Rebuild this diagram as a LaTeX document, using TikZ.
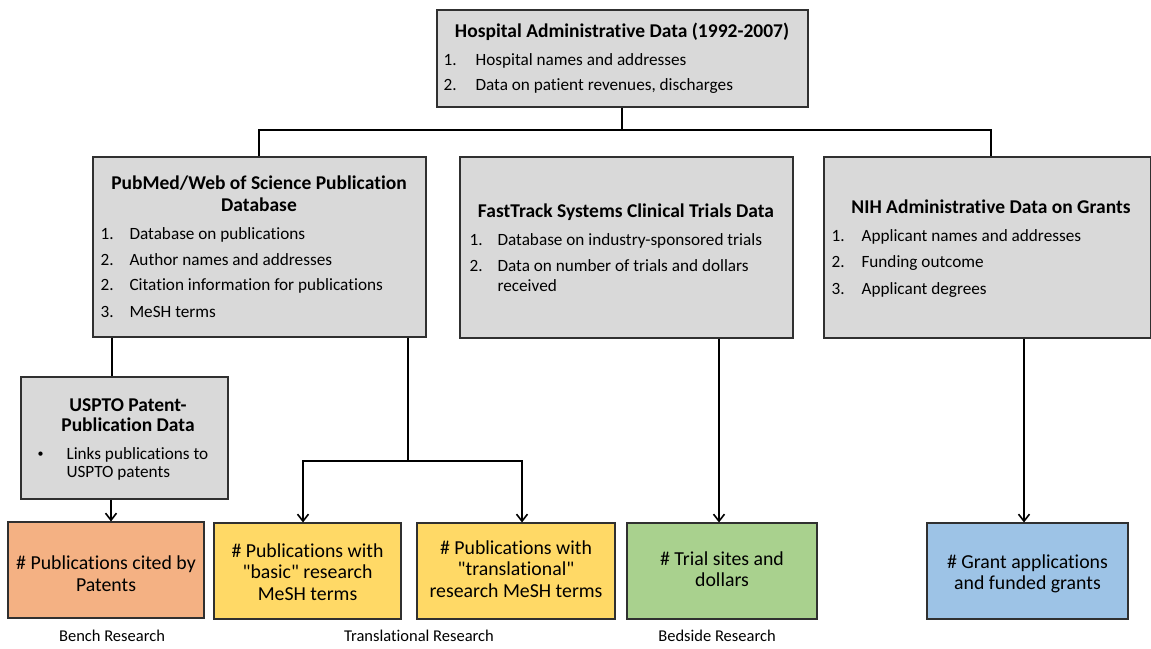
\documentclass[tikz,border=0pt]{standalone}
\usepackage{fontspec}
\setmainfont{Carlito}[Ligatures={TeXOff,CommonOff}]
\usetikzlibrary{arrows.meta}
\definecolor{boxgray}{HTML}{D9D9D9}
\definecolor{boxorange}{HTML}{F4B183}
\definecolor{boxyellow}{HTML}{FFD966}
\definecolor{boxgreen}{HTML}{A9D18E}
\definecolor{boxblue}{HTML}{9DC3E6}
\definecolor{edge}{HTML}{303030}
\begin{document}
\begin{tikzpicture}[x=1pt,y=-1pt,
  box/.style={draw=edge, line width=1.1pt, inner sep=0pt},
  conn/.style={line width=1.8pt, black, line join=miter},
  tip/.tip={Straight Barb[length=7pt,width=11pt,line width=1.6pt]},
  arr/.style={conn, -tip},
  ttl/.style={anchor=base, font=\fontsize{19.5}{22}\selectfont\bfseries},
  itm/.style={anchor=base west, font=\fontsize{17.2}{20}\selectfont},
  res/.style={anchor=base, font=\fontsize{19.8}{23}\selectfont},
  lab/.style={anchor=base, font=\fontsize{16.5}{19}\selectfont}
]
\useasboundingbox (0,0) rectangle (1151,648);
\fill[white] (0,0) rectangle (1151,648);

% boxes
\node[box, fill=boxgray, minimum width=371pt, minimum height=97pt] (hosp) at (622.5,58.5) {};
\node[box, fill=boxgray, minimum width=333pt, minimum height=180pt] (pub) at (259.5,247) {};
\node[box, fill=boxgray, minimum width=333pt, minimum height=181pt] (fast) at (626.5,247.5) {};
\node[box, fill=boxgray, minimum width=327pt, minimum height=181pt] (nih) at (987.5,247.5) {};
\node[box, fill=boxgray, minimum width=207pt, minimum height=122pt] (uspto) at (124.5,438) {};
\node[box, fill=boxorange, minimum width=196pt, minimum height=96pt] (orange) at (106,570) {};
\node[box, fill=boxyellow, minimum width=187pt, minimum height=96pt] (yel1) at (307.5,571) {};
\node[box, fill=boxyellow, minimum width=198pt, minimum height=96pt] (yel2) at (516,571) {};
\node[box, fill=boxgreen, minimum width=190pt, minimum height=96pt] (green) at (722,571) {};
\node[box, fill=boxblue, minimum width=201pt, minimum height=96pt] (blue) at (1027.5,571) {};

% hospital text
\node[ttl] (hospT) at (622,37) {Hospital Administrative Data (1992-2007)};
\node[itm] (hospN1) at (440,65) {1.};
\node[itm] (hospI1) at (472,65) {Hospital names and addresses};
\node[itm] (hospN2) at (440,90) {2.};
\node[itm] (hospI2) at (472,90) {Data on patient revenues, discharges};

% pubmed text
\node[ttl] (pubT1) at (259,189) {PubMed/Web of Science Publication};
\node[ttl] (pubT2) at (259,211) {Database};
\node[itm] (pubN1) at (97,239) {1.};
\node[itm] (pubI1) at (126,239) {Database on publications};
\node[itm] (pubN2) at (97,265) {2.};
\node[itm] (pubI2) at (126,265) {Author names and addresses};
\node[itm] (pubN3) at (97,290) {2.};
\node[itm] (pubI3) at (126,290) {Citation information for publications};
\node[itm] (pubN4) at (97,317) {3.};
\node[itm] (pubI4) at (126,317) {MeSH terms};

% fasttrack text
\node[ttl] (fastT) at (626,217) {FastTrack Systems Clinical Trials Data};
\node[itm] (fastN1) at (466,245) {1.};
\node[itm] (fastI1) at (494,245) {Database on industry-sponsored trials};
\node[itm] (fastN2) at (466,271) {2.};
\node[itm] (fastI2) at (494,271) {Data on number of trials and dollars};
\node[itm] (fastI3) at (494,291) {received};

% nih text
\node[ttl] (nihT) at (991,213) {NIH Administrative Data on Grants};
\node[itm] (nihN1) at (828,241) {1.};
\node[itm] (nihI1) at (858,241) {Applicant names and addresses};
\node[itm] (nihN2) at (828,267) {2.};
\node[itm] (nihI2) at (858,267) {Funding outcome};
\node[itm] (nihN3) at (828,294) {3.};
\node[itm] (nihI3) at (858,294) {Applicant degrees};

% uspto text
\node[ttl] (usT1) at (128,411) {USPTO Patent-};
\node[ttl] (usT2) at (128,431) {Publication Data};
\node[itm, font=\fontsize{12}{14}\selectfont] (usB) at (34,457) {•};
\node[itm] (usI1) at (63,459) {Links publications to};
\node[itm] (usI2) at (63,477) {USPTO patents};

% result boxes text
\node[res] (oT1) at (106,569) {\# Publications cited by};
\node[res] (oT2) at (106,591) {Patents};
\node[res] (y1T1) at (307.5,557) {\# Publications with};
\node[res] (y1T2) at (307.5,578) {"basic" research};
\node[res] (y1T3) at (307.5,600) {MeSH terms};
\node[res] (y2T1) at (516,554) {\# Publications with};
\node[res] (y2T2) at (516,575) {"translational"};
\node[res] (y2T3) at (516,597) {research MeSH terms};
\node[res] (gT1) at (722,565) {\# Trial sites and};
\node[res] (gT2) at (722,586) {dollars};
\node[res] (bT1) at (1027.5,568) {\# Grant applications};
\node[res] (bT2) at (1027.5,589) {and funded grants};

% labels
\node[lab] (lbBench) at (112,641) {Bench Research};
\node[lab] (lbTrans) at (419,641) {Translational Research};
\node[lab] (lbBed) at (717,641) {Bedside Research};

% connectors
\coordinate (hl) at (259,130);
\coordinate (hr) at (991,130);
\coordinate (hm) at (622,130);
\draw[conn] (hosp.south -| hm) -- (hm);
\draw[conn] (hl |- pub.north) -- (hl) -- (hr) -- (hr |- nih.north);

\coordinate (pb1) at (112,0);
\draw[conn] (pb1 |- pub.south) -- (pb1 |- uspto.north);
\coordinate (ua) at (111,0);
\draw[arr] (ua |- uspto.south) -- (ua |- orange.north);

\coordinate (pb2) at (408,461);
\coordinate (ya) at (303,461);
\coordinate (yb) at (522,461);
\draw[conn] (pb2 |- pub.south) -- (pb2);
\draw[conn, tip-tip] (ya |- yel1.north) -- (ya) -- (yb) -- (yb |- yel2.north);

\coordinate (fa) at (719,0);
\draw[arr] (fa |- fast.south) -- (fa |- green.north);
\coordinate (na) at (1024,0);
\draw[arr] (na |- nih.south) -- (na |- blue.north);
\end{tikzpicture}
\end{document}
